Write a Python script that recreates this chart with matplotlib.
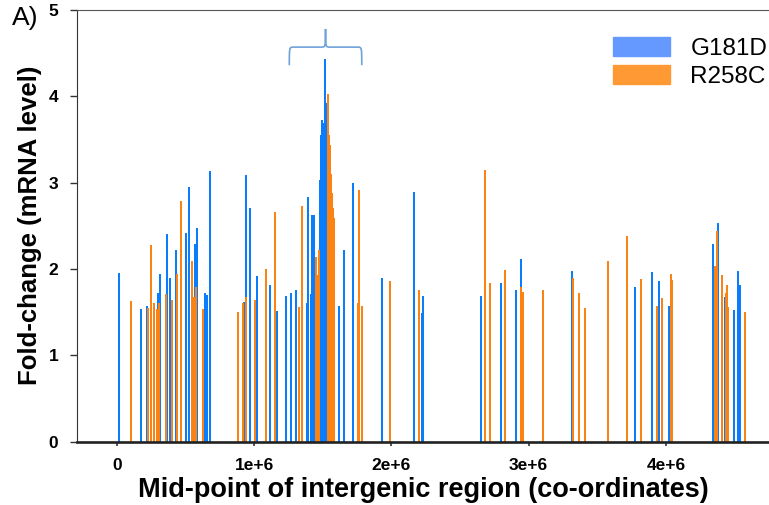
import matplotlib
matplotlib.use('Agg')
import matplotlib.pyplot as plt
from matplotlib.patches import Patch
from matplotlib.path import Path
from matplotlib.patches import PathPatch
import numpy as np

# mid-points (in units of 1e6) and fold-change for each mutant
g181d_x = [0.012, 0.173, 0.216, 0.297, 0.313, 0.364, 0.389, 0.430, 0.503, 0.522,
           0.571, 0.580, 0.641, 0.656, 0.678, 0.923, 0.940, 0.967, 1.020, 1.113,
           1.164, 1.229, 1.266, 1.307, 1.385, 1.394, 1.412, 1.424, 1.433,
           1.476, 1.482, 1.487, 1.492, 1.497, 1.502, 1.508, 1.513, 1.516, 1.521,
           1.526, 1.531,
           1.618, 1.654, 1.718, 1.929, 2.165, 2.221, 2.230, 2.651, 2.799, 2.906,
           2.942, 3.316, 3.776, 3.899, 3.950, 4.023, 4.344, 4.380, 4.429, 4.497,
           4.524, 4.538]
g181d_y = [1.95, 1.53, 1.57, 1.72, 1.94, 2.41, 1.89, 2.22, 2.42, 2.95,
           2.29, 2.47, 1.72, 1.70, 3.14, 1.62, 3.09, 2.71, 1.92, 1.81,
           1.51, 1.69, 1.72, 1.76, 1.61, 2.83, 1.71, 2.63, 2.63,
           1.70, 3.03, 3.55, 3.60, 3.73, 3.69, 3.40, 3.90, 4.43, 3.85,
           3.92, 3.30,
           1.57, 2.22, 2.99, 1.89, 2.89, 1.49, 1.69, 1.69, 1.84, 1.75,
           2.11, 1.98, 1.79, 1.97, 1.86, 1.57, 2.29, 2.53, 1.68, 1.52,
           1.98, 1.81]

r258c_x = [0.100, 0.226, 0.245, 0.267, 0.289, 0.304, 0.360, 0.398, 0.440, 0.464,
           0.544, 0.561, 0.578, 0.624, 0.882, 0.916, 0.943, 1.003, 1.086, 1.152,
           1.324, 1.346, 1.448, 1.455, 1.472,
           1.536, 1.541, 1.546, 1.551, 1.556, 1.562, 1.568, 1.575, 1.582,
           1.754, 1.764, 1.788, 1.990, 2.201, 2.685, 2.719, 2.826, 2.947, 2.957,
           3.107, 3.321, 3.367, 3.411, 3.579, 3.717, 3.819, 3.936, 3.972, 4.038,
           4.045, 4.359, 4.371, 4.410, 4.436, 4.446, 4.452, 4.575]
r258c_y = [1.63, 1.55, 2.28, 1.61, 1.54, 1.61, 1.71, 1.64, 1.94, 2.79,
           2.09, 1.68, 1.79, 1.54, 1.50, 1.60, 1.67, 1.64, 2.00, 2.66,
           1.56, 2.73, 2.14, 1.93, 2.22,
           4.03, 3.80, 3.55, 3.44, 3.32, 3.10, 2.88, 2.70, 2.59,
           1.61, 2.92, 1.57, 1.86, 1.76, 3.15, 1.84, 1.99, 1.79, 1.73,
           1.75, 1.89, 1.72, 1.55, 2.09, 2.38, 1.88, 1.57, 1.66, 1.94,
           1.87, 2.03, 2.44, 1.93, 1.72, 1.81, 1.56, 1.50]

labels = ['G181D', 'R258C']
x_ticks = [0, 1e6, 2e6, 3e6, 4e6]
x_ticklabels = ['0', '1e+6', '2e+6', '3e+6', '4e+6']

blue = '#0a7dfc'
orange = '#fb8313'


def curly_brace(ax, x0, x1, y, h, color):
    # horizontal curly brace opening downwards, tip at the top
    xm = (x0 + x1) / 2
    w = (x1 - x0)
    r = 0.06 * w
    verts = [(x0, y - h), (x0, y), (x0, y), (x0 + r, y),
             (xm - r, y), (xm, y), (xm, y), (xm, y + h),
             (xm, y), (xm, y), (xm + r, y),
             (x1 - r, y), (x1, y), (x1, y), (x1, y - h)]
    codes = [Path.MOVETO, Path.CURVE4, Path.CURVE4, Path.CURVE4,
             Path.LINETO, Path.CURVE4, Path.CURVE4, Path.CURVE4,
             Path.CURVE4, Path.CURVE4, Path.CURVE4,
             Path.LINETO, Path.CURVE4, Path.CURVE4, Path.CURVE4]
    ax.add_patch(PathPatch(Path(verts, codes), fill=False, edgecolor=color,
                           linewidth=1.2, transform=ax.transData, clip_on=False))


plt.rcParams['font.family'] = ['Liberation Sans', 'DejaVu Sans']
fig = plt.figure(figsize=(7.69, 5.05), dpi=100)
ax = fig.add_axes([0.1001, 0.1257, 0.8999, 0.8545])

ax.bar(np.array(g181d_x) * 1e6, g181d_y, width=14000, color=blue, linewidth=0)
ax.bar(np.array(r258c_x) * 1e6, r258c_y, width=14000, color=orange, linewidth=0)

curly_brace(ax, 1.256e6, 1.784e6, 4.57, 0.21, '#6ea3da')

ax.set_xlim(-0.2915e6, 4.752e6)
ax.set_ylim(0, 5)
ax.set_xticks(x_ticks)
ax.set_xticklabels(x_ticklabels, fontsize=12.5, fontweight='bold')
ax.set_yticks(range(6))
ax.set_yticklabels([str(i) for i in range(6)], fontsize=12.5, fontweight='bold')
ax.tick_params(axis='x', length=3, width=1.2, pad=9, color='#333333')
ax.tick_params(axis='y', length=5, width=1, pad=8.5, color='#333333')

ax.spines['right'].set_visible(False)
ax.spines['bottom'].set_linewidth(1.9)
ax.spines['bottom'].set_color('#222222')
ax.spines['left'].set_color('#333333')
ax.spines['top'].set_color('#555555')

ax.set_xlabel('Mid-point of intergenic region (co-ordinates)', fontsize=19.5,
              fontweight='bold', labelpad=3)
ax.set_ylabel('Fold-change (mRNA level)', fontsize=18.5, fontweight='bold',
              labelpad=5)

handles = [Patch(color='#6699ff'), Patch(color='#ff9933')]
ax.legend(handles, labels, loc='upper right', bbox_to_anchor=(1.015, 0.965),
          frameon=False, fontsize=17.5, handlelength=2.35, handleheight=0.8,
          labelspacing=0.22, handletextpad=0.85, borderaxespad=0.1)

fig.text(0.016, 0.964, 'A)', fontsize=19, ha='left', va='center')

fig.savefig('out.png', dpi=100)
